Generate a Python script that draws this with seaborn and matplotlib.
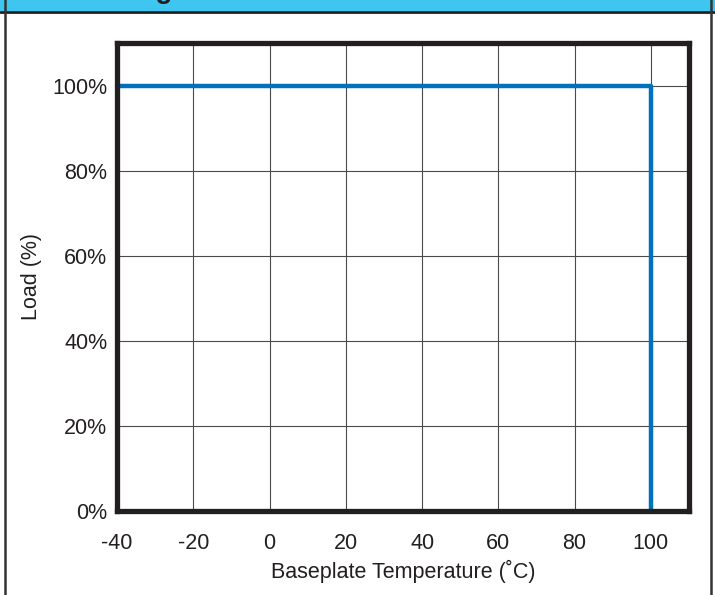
import matplotlib
matplotlib.use("Agg")
import matplotlib.pyplot as plt
from matplotlib.lines import Line2D
from matplotlib.patches import Rectangle
import seaborn as sns
import pandas as pd

# data
temps = [-40, 100, 100]
loads = [100, 100, 0]
x_ticks = [-40, -20, 0, 20, 40, 60, 80, 100]
x_tick_labels = ["-40", "-20", "0", "20", "40", "60", "80", "100"]
y_ticks = [0, 20, 40, 60, 80, 100]
y_tick_labels = ["0%", "20%", "40%", "60%", "80%", "100%"]
title = "Derating Curve"
x_label = "Baseplate Temperature (˚C)"
y_label = "Load (%)"

sns.set_style("white")
plt.rcParams['font.family'] = ['Liberation Sans', 'DejaVu Sans']

fig = plt.figure(figsize=(7.15, 5.95), dpi=100)
ax = fig.add_axes([117/715, 1 - 511/595, (689 - 117)/715, (511 - 43)/595])

df = pd.DataFrame({"t": temps, "l": loads})
sns.lineplot(data=df, x="t", y="l", sort=False, estimator=None, ax=ax,
             color="#0071BC", linewidth=3.2, zorder=5, clip_on=False)

ax.set_xlim(-40, 110)
ax.set_ylim(0, 110)
ax.set_xticks(x_ticks)
ax.set_xticklabels(x_tick_labels)
ax.set_yticks(y_ticks)
ax.set_yticklabels(y_tick_labels)
ax.grid(True, color="#4a4a4a", linewidth=0.8)
ax.set_axisbelow(True)
for s in ax.spines.values():
    s.set_visible(True)
    s.set_color("#231F20")
    s.set_linewidth(3.8)
    s.set_zorder(6)
ax.tick_params(axis="both", length=0, labelsize=15.5, colors="#231F20")
ax.tick_params(axis="y", pad=7)
ax.tick_params(axis="x", pad=16)
ax.set_xlabel(x_label, fontsize=15.5, color="#231F20", labelpad=4)
ax.set_ylabel(y_label, fontsize=15.5, color="#231F20", labelpad=7)

# header band and outer frame
fig.patches.append(Rectangle((0, 1 - 11/595), 1, 11/595, transform=fig.transFigure,
                             facecolor="#3FC6F0", edgecolor="none", zorder=0))
fig.lines.append(Line2D([0, 1], [1 - 12/595, 1 - 12/595], transform=fig.transFigure,
                        color="#231F20", linewidth=2))
fig.lines.append(Line2D([5/715, 5/715], [0, 1], transform=fig.transFigure,
                        color="#333333", linewidth=1.8))
fig.lines.append(Line2D([711/715, 711/715], [0, 1], transform=fig.transFigure,
                        color="#333333", linewidth=1.8))
fig.text(60/715, 1 + 2/595, title, fontsize=20, fontweight="bold", color="#231F20",
         ha="left", va="baseline")

fig.savefig("out.png", dpi=100)
